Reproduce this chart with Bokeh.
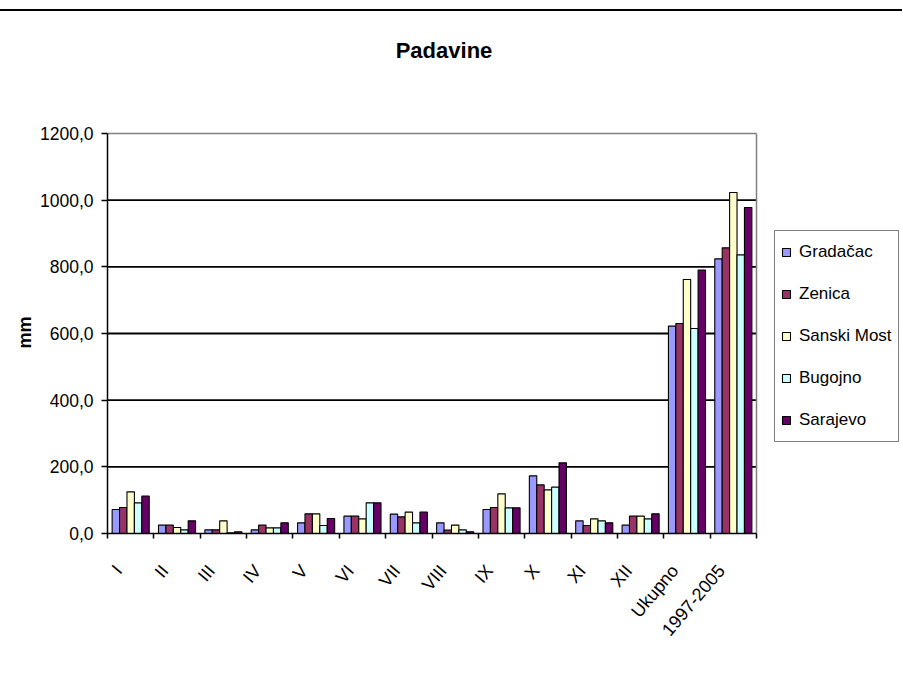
from bokeh.plotting import figure
from bokeh.models import (Range1d, FixedTicker, Label, Legend,
                          LegendItem, ColumnDataSource)
from bokeh.transform import dodge
from bokeh.embed import file_html
from bokeh.resources import INLINE

categories = ["I", "II", "III", "IV", "V", "VI", "VII", "VIII", "IX", "X",
              "XI", "XII", "Ukupno", "1997-2005"]
series_names = ["Gradačac", "Zenica", "Sanski Most", "Bugojno", "Sarajevo"]
gradacac = [72, 25, 11, 11, 32, 52, 58, 32, 72, 173, 38, 25, 622, 824]
zenica = [78, 25, 11, 25, 59, 52, 50, 10, 78, 146, 24, 52, 630, 857]
sanski_most = [125, 18, 38, 17, 59, 44, 64, 25, 119, 131, 44, 52, 762, 1023]
bugojno = [92, 11, 2, 17, 24, 92, 32, 11, 77, 139, 38, 44, 615, 836]
sarajevo = [112, 38, 5, 32, 45, 92, 64, 5, 77, 212, 32, 59, 790, 978]
colors = ["#9999FF", "#993366", "#FFFFCC", "#CCFFFF", "#660066"]
y_ticks = [0, 200, 400, 600, 800, 1000, 1200]
y_tick_labels = ["0,0", "200,0", "400,0", "600,0", "800,0", "1000,0", "1200,0"]
y_title = "mm"

FONT = "Liberation Sans"

# plot geometry (pixels)
PLOT_W, PLOT_H = 649, 400      # data area of the chart
FRAME_W, FRAME_H = 795, 522     # frame also holds title + legend
n = len(categories)
y_max = y_ticks[-1]

data = dict(x=[i + 0.5 for i in range(n)],
            s0=gradacac, s1=zenica, s2=sanski_most, s3=bugojno, s4=sarajevo)
source = ColumnDataSource(data)

p = figure(frame_width=FRAME_W, frame_height=FRAME_H,
           x_range=Range1d(0, n * FRAME_W / PLOT_W),
           y_range=Range1d(0, y_max * FRAME_H / PLOT_H),
           output_backend="svg", toolbar_location=None,
           min_border_left=107, min_border_right=0,
           min_border_top=0, min_border_bottom=128)
p.margin = (9, 0, 0, 0)
p.styles = {"border-top": "2px solid black"}
p.background_fill_color = "white"
p.border_fill_color = "white"
p.outline_line_color = None
p.xgrid.visible = False
p.ygrid.visible = False

# horizontal grid lines (black) behind bars
grid_vals = y_ticks[1:-1]
p.segment(x0=[0] * len(grid_vals), x1=[n] * len(grid_vals),
          y0=grid_vals, y1=grid_vals, line_color="black", line_width=1.8)
# plot-area border (grey) on top and right
p.segment(x0=[0, n], x1=[n, n], y0=[y_max, 0], y1=[y_max, y_max],
          line_color="#808080", line_width=1.5)

bw = 0.16
offsets = [-2 * bw, -bw, 0, bw, 2 * bw]
renderers = []
for j in range(5):
    r = p.vbar(x=dodge("x", offsets[j], range=p.x_range), top="s%d" % j,
               width=bw, source=source, fill_color=colors[j],
               line_color="black", line_width=1.1)
    renderers.append(r)

# y axis
p.yaxis.bounds = (y_ticks[0], y_ticks[-1])
p.yaxis.ticker = FixedTicker(ticks=y_ticks)
p.yaxis.major_label_overrides = {t: l for t, l in zip(y_ticks, y_tick_labels)}
p.yaxis.major_label_text_font = FONT
p.yaxis.major_label_text_font_size = "17.5px"
p.yaxis.major_label_text_color = "black"
p.yaxis.major_tick_out = 6
p.yaxis.major_tick_in = 0
p.yaxis.minor_tick_out = 0
p.yaxis.minor_tick_in = 0
p.yaxis.major_label_standoff = 8
p.yaxis.axis_line_color = "black"
p.yaxis.axis_line_width = 1.5
p.yaxis.major_tick_line_width = 1.5
# non-breaking spaces shift the centred title down to the data area's middle
p.yaxis.axis_label = y_title + "\u00a0" * 24
p.yaxis.axis_label_text_font = FONT
p.yaxis.axis_label_text_font_style = "bold"
p.yaxis.axis_label_text_font_size = "18px"
p.yaxis.axis_label_text_color = "black"
p.yaxis.axis_label_standoff = 2

# x axis: ticks on category boundaries, labels near category centres
label_pos = [i + 0.24 for i in range(n)]
bounds = list(range(n + 1))
p.xaxis.bounds = (0, n)
p.xaxis.ticker = FixedTicker(ticks=label_pos, minor_ticks=bounds)
p.xaxis.major_label_overrides = {c: l for c, l in zip(label_pos, categories)}
p.xaxis.major_tick_out = 0
p.xaxis.major_tick_in = 0
p.xaxis.minor_tick_out = 5
p.xaxis.minor_tick_in = 0
p.xaxis.minor_tick_line_color = "black"
p.xaxis.minor_tick_line_width = 1.5
p.xaxis.axis_line_color = "black"
p.xaxis.axis_line_width = 1.5
p.xaxis.major_label_orientation = 0.87
p.xaxis.major_label_text_font = FONT
p.xaxis.major_label_text_font_size = "18px"
p.xaxis.major_label_text_color = "black"
p.xaxis.major_label_standoff = 29

# title
title = Label(x=336.5, y=483, x_units="screen", y_units="screen",
              text="Padavine", text_font=FONT, text_font_style="bold",
              text_font_size="22px", text_align="center",
              text_baseline="middle", text_color="black")
p.add_layout(title)

legend = Legend(items=[LegendItem(label=nm, renderers=[r])
                       for nm, r in zip(series_names, renderers)],
                location=(667, 91))
legend.label_text_font = FONT
legend.label_text_font_size = "17px"
legend.label_text_color = "black"
legend.glyph_width = 10
legend.glyph_height = 10
legend.label_height = 30
legend.spacing = 12
legend.padding = 6
legend.label_standoff = 8
legend.margin = 0
legend.border_line_color = "black"
legend.border_line_width = 1.2
legend.background_fill_alpha = 1
p.add_layout(legend)

open("out.html", "w").write(file_html(p, INLINE))
